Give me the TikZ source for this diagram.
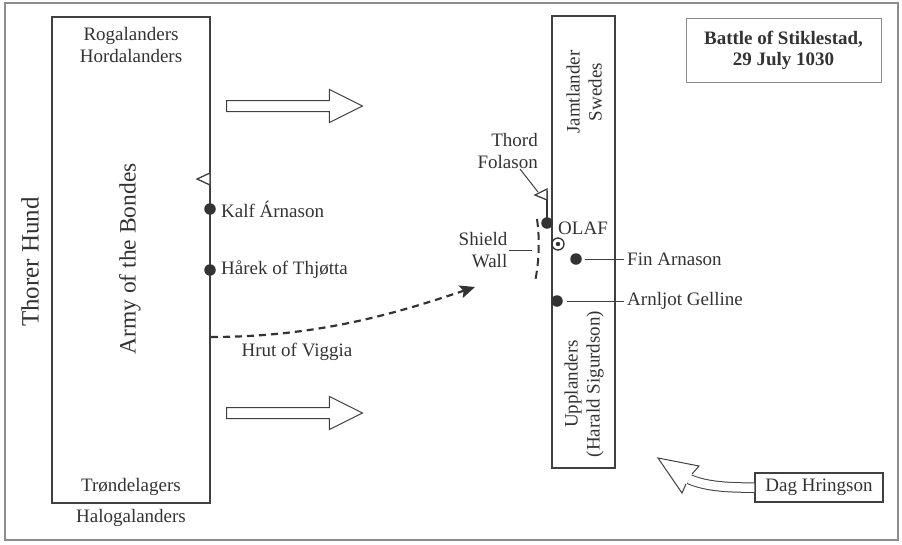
\documentclass[tikz,border=0pt]{standalone}
\usepackage{fontspec}
\setmainfont{Liberation Serif}
\usetikzlibrary{positioning,shapes.arrows,arrows.meta}

\tikzset{
  frameline/.style={draw=black!45, line width=1.2pt},
  armyline/.style={draw=black!75, line width=1.3pt},
  armybox/.style={armyline, inner sep=0pt},
  dot/.style={circle, fill=black!80, inner sep=0pt, minimum size=11.5pt},
  lbl/.style={font=\fontsize{19}{22}\selectfont, text=black!80, inner sep=2pt},
  advance/.style={single arrow, draw=black!75, line width=1pt, inner sep=5pt,
    single arrow head extend=11pt, single arrow tip angle=53,
    minimum height=136pt},
  march/.style={draw=black!80, line width=2.2pt, dash pattern=on 7pt off 5pt},
}

\begin{document}
\begin{tikzpicture}[x=1pt,y=-1pt]
\useasboundingbox (0,0) rectangle (902,544);
\draw[frameline] (5,3) rectangle (898,540);

\node[lbl, draw=black!45, line width=1pt, minimum width=195pt, minimum height=64pt,
  align=center, font=\fontsize{19}{21}\bfseries] (title) at (783.5,50)
  {Battle of Stiklestad,\\29 July 1030};

% army of the bondes
\node[armybox, minimum width=158pt, minimum height=486pt] (bondes) at (131,260) {};
\node[lbl, align=center] (north) at (131,45) {Rogalanders\\Hordalanders};
\node[lbl] (trond) at (131,487) {Trøndelagers};
\node[lbl] (halog) at (131,518) {Halogalanders};
\node[lbl, rotate=90, font=\fontsize{23.5}{28}\selectfont] (army) at (130,259) {Army of the Bondes};
\node[lbl, rotate=90, font=\fontsize{25}{30}\selectfont] (thorer) at (30,262) {Thorer Hund};

\draw[armyline, fill=white] (210,173) -- (197,179) -- (210,185) -- cycle;
\node[dot] (kalf) at (210,209) {};
\node[lbl, right=3pt of kalf] (kalflbl) {Kalf Árnason};
\node[dot] (harek) at (210,270) {};
\node[lbl, right=3pt of harek] (hareklbl) {Hårek of Thjøtta};

\coordinate (hrutfrom) at (211,337);
\coordinate (hrutto) at (475,287);
\draw[march, -{Stealth[length=15pt,width=13pt,inset=3pt]}]
  (hrutfrom) .. controls (320,337) and (400,312) .. (hrutto);
\node[lbl] (hrut) at (297,352) {Hrut of Viggia};

\node[advance, anchor=tail] (adv1) at (226,106) {};
\node[advance, anchor=tail] (adv2) at (226,413) {};

% olaf's army
\node[armybox, minimum width=63pt, minimum height=452pt] (olafarmy) at (583.5,242) {};
\node[lbl, rotate=90, align=center] (jamt) at (584,92) {Jamtlander\\Swedes};
\node[lbl, rotate=90, align=center] (uppl) at (584,384) {Upplanders\\(Harald Sigurdson)};

\node[dot] (thord) at (547,223) {};
\draw[draw=black!80, line width=2pt] (thord.center) -- (547,191);
\draw[armyline, fill=white] (547,189) -- (535,195) -- (547,200) -- cycle;
\node[lbl, align=right, anchor=east] (thordlbl) at (540,151) {Thord\\Folason};
\coordinate (thordfrom) at (520,169);
\coordinate (thordflag) at (538,192);
\draw[armyline, line width=1pt] (thordfrom) -- (thordflag);

\node[lbl, anchor=west] (olaf) at (556,228) {OLAF};
\node[circle, draw=black!80, line width=1.3pt, minimum size=12pt, inner sep=0pt] (king) at (558,244) {};
\fill[black!80] (king.center) circle (2.2pt);

\draw[draw=black!80, line width=2pt, dash pattern=on 8pt off 5pt]
  (537,219) .. controls (540,240) and (539,262) .. (535,282);
\node[lbl, align=right] (shield) at (483,250) {Shield\\Wall};
\coordinate (wallpt) at (532,250);
\draw[armyline, line width=1pt] (shield.east) -- (wallpt);

\node[dot] (fin) at (576,259) {};
\node[lbl, anchor=west, inner sep=3pt] (finlbl) at (624,259) {Fin Arnason};
\draw[armyline, line width=1pt] ([xshift=9pt]fin.center) -- (finlbl.west);
\node[dot] (arnljot) at (557,301) {};
\node[lbl, anchor=west, inner sep=3pt] (arnlbl) at (624,301) {Arnljot Gelline};
\draw[armyline, line width=1pt] ([xshift=10pt]arnljot.center) -- (arnlbl.west);

% dag hringson
\node[lbl, armybox, inner sep=2pt, minimum width=128pt, minimum height=29pt] (dag) at (819,487.5) {Dag Hringson};
\draw[draw=black!75, line width=1pt, double=white, double distance=8.5pt]
  (dag.west) .. controls (722,488) and (702,485) .. (689,479);
\fill[white] (658,458) -- (699,466) -- (692,474) -- (686,484) -- (682,493) -- cycle;
\draw[draw=black!75, line width=1pt, line join=miter]
  (692,474) -- (699,466) -- (658,458) -- (682,493) -- (686,484);
\end{tikzpicture}
\end{document}
